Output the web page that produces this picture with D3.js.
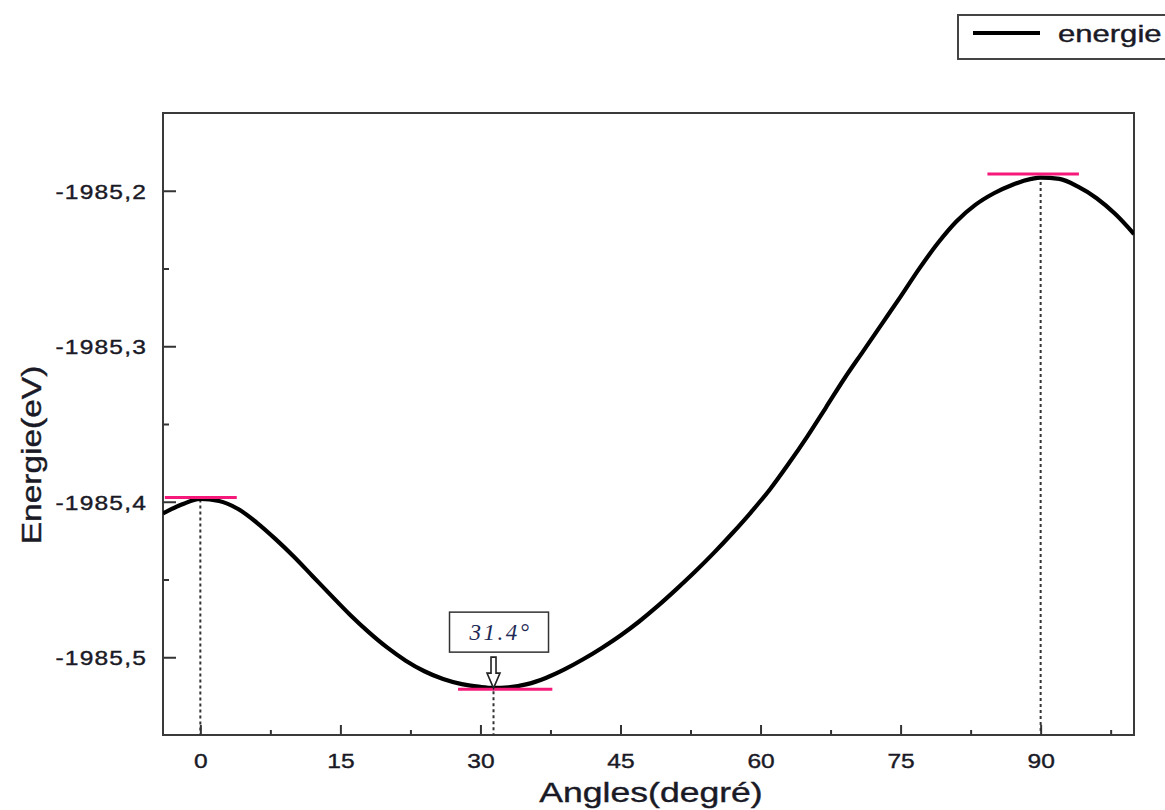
<!DOCTYPE html>
<html>
<head>
<meta charset="utf-8">
<script src="https://cdn.jsdelivr.net/npm/d3@7"></script>
<style>
  body { margin: 0; background: #fff; }
</style>
</head>
<body>
<svg id="chart" width="1165" height="810" font-family="'Liberation Sans', Arial, sans-serif"></svg>
<script>
// Torsion scan: total energy (eV) against dihedral angle (degrees)
const angles = [-4, -2, 0, 2, 4, 6, 8, 10, 12, 14, 16, 18, 20, 22, 24, 26, 28, 30, 31.4,
  33, 35, 37, 39, 41, 43, 45, 47, 49, 51, 53, 55, 57, 59, 61, 63, 65, 67, 69, 71, 73,
  75, 77, 79, 81, 83, 85, 87, 89, 90, 92, 94, 96, 98, 100];
const energies = [-1985.4075, -1985.4018, -1985.3982, -1985.3995, -1985.4045, -1985.4132,
  -1985.4237, -1985.4352, -1985.4477, -1985.4602, -1985.4725, -1985.4837, -1985.4937,
  -1985.5022, -1985.5090, -1985.5140, -1985.5173, -1985.5191, -1985.5197, -1985.5193,
  -1985.5173, -1985.5133, -1985.5078, -1985.5013, -1985.4940, -1985.4860, -1985.4770,
  -1985.4670, -1985.4562, -1985.4449, -1985.4329, -1985.4201, -1985.4066, -1985.3921,
  -1985.3756, -1985.3581, -1985.3394, -1985.3206, -1985.3031, -1985.2856, -1985.2681,
  -1985.2501, -1985.2336, -1985.2196, -1985.2091, -1985.2016, -1985.1961, -1985.1924,
  -1985.1915, -1985.1924, -1985.1974, -1985.2048, -1985.2150, -1985.2278];

// stationary points (two maxima, one minimum) and the reference levels marked at them
const extremaAngles = [0, 31.4, 90];
const extremaEnergies = [-1985.3972, -1985.5205, -1985.1892];
const levelFrom = [-3.8, 27.6, 84.3];
const levelTo = [3.9, 37.7, 94.1];

const xTicks = [0, 15, 30, 45, 60, 75, 90];
const xMinorTicks = [7.5, 22.5, 37.5, 52.5, 67.5, 82.5, 97.5];
const yTicks = [-1985.5, -1985.4, -1985.3, -1985.2];
const yMinorTicks = [-1985.45, -1985.35, -1985.25];

const seriesName = "energie";
const minimumLabel = "31.4°";
const xTitle = "Angles(degré)";
const yTitle = "Energie(eV)";

const svg = d3.select("#chart");
const plotLeft = 163, plotRight = 1134, plotTop = 113, plotBottom = 735;
const ink = "#1a1a26";

const x = d3.scaleLinear().domain([-4, 100]).range([plotLeft, plotRight]);
const y = d3.scaleLinear().domain([-1985.55, -1985.15]).range([plotBottom, plotTop]);

// decimal comma and a plain hyphen as the sign
const comma = v => d3.format(".1f")(v).replace(".", ",").replace("\u2212", "-");
const SX = 1.17; // wide lettering of the plot labels

// minor ticks (no labels)
svg.append("g").attr("transform", `translate(0,${plotBottom})`)
  .call(d3.axisTop(x).tickValues(xMinorTicks).tickSize(5).tickFormat(""))
  .call(g => g.select(".domain").remove())
  .call(g => g.selectAll("line").attr("stroke", "#333").attr("stroke-width", 2));
svg.append("g").attr("transform", `translate(${plotLeft},0)`)
  .call(d3.axisRight(y).tickValues(yMinorTicks).tickSize(6).tickFormat(""))
  .call(g => g.select(".domain").remove())
  .call(g => g.selectAll("line").attr("stroke", "#333").attr("stroke-width", 2));

// major ticks pointing inward, labels outside
const xAxis = svg.append("g").attr("transform", `translate(0,${plotBottom})`)
  .call(d3.axisBottom(x).tickValues(xTicks).tickSizeInner(-10).tickSizeOuter(0).tickPadding(0)
    .tickFormat(d3.format("d")));
xAxis.select(".domain").remove();
xAxis.selectAll("line").attr("stroke", "#333").attr("stroke-width", 2);
xAxis.selectAll("text").attr("y", 33).attr("dy", 0)
  .attr("transform", `scale(${SX},1)`)
  .attr("font-family", "'Liberation Sans', Arial, sans-serif")
  .attr("font-size", 21).attr("fill", ink)
  .attr("stroke", ink).attr("stroke-width", 0.4);

const yAxis = svg.append("g").attr("transform", `translate(${plotLeft},0)`)
  .call(d3.axisLeft(y).tickValues(yTicks).tickSizeInner(-13).tickSizeOuter(0).tickPadding(0)
    .tickFormat(comma));
yAxis.select(".domain").remove();
yAxis.selectAll("line").attr("stroke", "#333").attr("stroke-width", 2);
yAxis.selectAll("text").attr("x", -16 / SX).attr("dy", "0.36em")
  .attr("transform", `scale(${SX},1)`)
  .attr("letter-spacing", 1)
  .attr("font-family", "'Liberation Sans', Arial, sans-serif")
  .attr("font-size", 21).attr("fill", ink)
  .attr("stroke", ink).attr("stroke-width", 0.4);

// plot frame
svg.append("rect").attr("x", plotLeft).attr("y", plotTop)
  .attr("width", plotRight - plotLeft).attr("height", plotBottom - plotTop)
  .attr("fill", "none").attr("stroke", "#3a3a3a").attr("stroke-width", 2);

// dotted drop lines from each stationary point to the angle axis
svg.append("g").selectAll("line").data(extremaAngles).join("line")
  .attr("x1", d => x(d)).attr("x2", d => x(d))
  .attr("y1", (d, i) => y(extremaEnergies[i]) + 2).attr("y2", plotBottom)
  .attr("stroke", "#333").attr("stroke-width", 2).attr("stroke-dasharray", "3,3");

// energy curve
svg.append("defs").append("clipPath").attr("id", "plot-clip")
  .append("rect").attr("x", plotLeft).attr("y", plotTop)
  .attr("width", plotRight - plotLeft).attr("height", plotBottom - plotTop);
const line = d3.line().x(d => x(d[0])).y(d => y(d[1])).curve(d3.curveMonotoneX);
svg.append("path").datum(angles.map((a, i) => [a, energies[i]]))
  .attr("clip-path", "url(#plot-clip)")
  .attr("d", line).attr("fill", "none").attr("stroke", "#000").attr("stroke-width", 4.2)
  .attr("stroke-linejoin", "round");

// magenta levels at extrema
svg.append("g").selectAll("line").data(extremaEnergies).join("line")
  .attr("x1", (d, i) => x(levelFrom[i])).attr("x2", (d, i) => x(levelTo[i]))
  .attr("y1", d => y(d)).attr("y2", d => y(d))
  .attr("stroke", "#f5197a").attr("stroke-width", 3);

// minimum annotation: boxed label with a hollow arrow
const mx = x(extremaAngles[1]), my = y(extremaEnergies[1]) - 1;
const note = svg.append("g");
note.append("rect").attr("x", mx - 44).attr("y", my - 76).attr("width", 99).attr("height", 40)
  .attr("fill", "#fff").attr("stroke", "#333").attr("stroke-width", 1.5);
note.append("text").attr("x", mx + 7).attr("y", my - 48).attr("text-anchor", "middle")
  .attr("font-family", "'Liberation Serif', 'DejaVu Serif', serif").attr("font-style", "italic")
  .attr("font-size", 23).attr("fill", "#1e2a55").attr("letter-spacing", 2.5)
  .text(minimumLabel);
note.append("path")
  .attr("d", `M${mx - 2.5},${my - 31} L${mx + 2.5},${my - 31} L${mx + 2.5},${my - 15}
    L${mx + 6.5},${my - 15} L${mx},${my} L${mx - 6.5},${my - 15} L${mx - 2.5},${my - 15} Z`)
  .attr("fill", "#fff").attr("stroke", "#222").attr("stroke-width", 1.6);

// axis titles
svg.append("text").attr("transform", `translate(651,802) scale(1.27,1)`)
  .attr("text-anchor", "middle").attr("font-size", 28).attr("fill", ink)
  .attr("stroke", ink).attr("stroke-width", 0.4).text(xTitle);
svg.append("text").attr("transform", `translate(41,455) rotate(-90) scale(1.24,1)`)
  .attr("text-anchor", "middle").attr("font-size", 27).attr("fill", ink)
  .attr("stroke", ink).attr("stroke-width", 0.4).text(yTitle);

// legend
const legend = svg.append("g");
legend.append("rect").attr("x", 958).attr("y", 15).attr("width", 215).attr("height", 44)
  .attr("fill", "#fff").attr("stroke", "#444").attr("stroke-width", 2);
legend.append("line").attr("x1", 973).attr("x2", 1040).attr("y1", 33).attr("y2", 33)
  .attr("stroke", "#000").attr("stroke-width", 4);
legend.append("text").attr("transform", "translate(1058,42) scale(1.35,1)")
  .attr("font-size", 23).attr("fill", ink)
  .attr("stroke", ink).attr("stroke-width", 0.4).text(seriesName);
</script>
</body>
</html>
